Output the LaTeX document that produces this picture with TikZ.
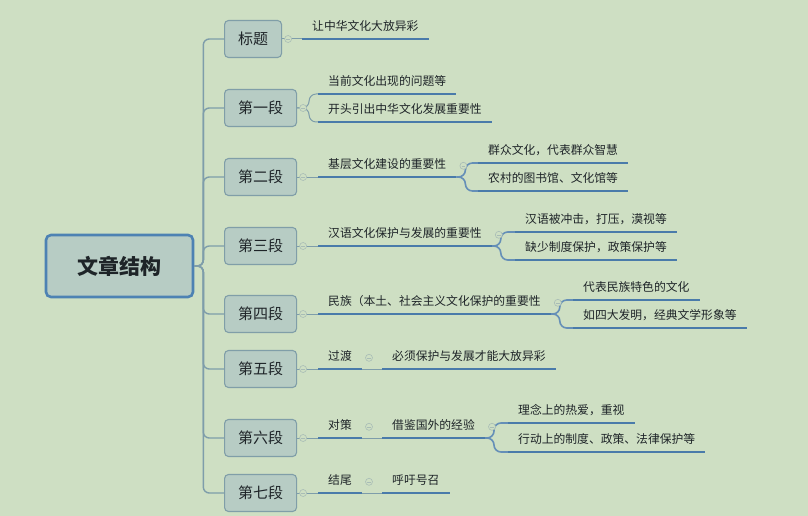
\documentclass[tikz,border=0pt]{standalone}
\usepackage{fontspec}
\setmainfont{Noto Sans CJK SC}
\definecolor{bgreen}{RGB}{206,223,195}
\definecolor{boxfill}{RGB}{183,204,196}
\definecolor{boxline}{RGB}{128,158,168}
\definecolor{rootline}{RGB}{77,130,179}
\definecolor{ulblue}{RGB}{74,123,170}
\definecolor{linkgray}{RGB}{126,157,170}
\definecolor{foldgray}{RGB}{168,188,182}
\definecolor{inkdark}{RGB}{30,36,40}
\usetikzlibrary{positioning}
\tikzset{
	root/.style={rectangle, rounded corners=5pt, draw=rootline, fill=boxfill, line width=2.6pt, minimum width=147pt, minimum height=62pt, font=\fontsize{21}{24}\selectfont\bfseries, text=inkdark},
	part/.style={rectangle, rounded corners=4pt, draw=boxline, fill=boxfill, line width=1.1pt, minimum height=37pt, inner xsep=13.5pt, anchor=west, font=\fontsize{15}{18}\selectfont, text=inkdark},
	topic/.style={anchor=south west, inner xsep=10pt, inner ysep=5pt, text height=9pt, text depth=3pt, font=\fontsize{11.8}{14}\selectfont, text=inkdark},
	uline/.style={draw=ulblue, line width=2.8pt},
	trunk/.style={draw=linkgray, line width=1.4pt, rounded corners=6pt},
	link/.style={draw=linkgray, line width=1pt, rounded corners=7pt},
	sublink/.style={draw=ulblue!85, line width=1.6pt, rounded corners=7pt},
	fold/.style={circle, draw=foldgray, fill=bgreen, line width=0.6pt, minimum size=7pt, inner sep=0pt, path picture={\draw[foldgray, line width=0.6pt] ([xshift=-1.8pt]path picture bounding box.center) -- ([xshift=1.8pt]path picture bounding box.center);}},
}

\begin{document}
\begin{tikzpicture}[x=1pt, y=-1pt]
	\fill[bgreen] (0,0) rectangle (808,516);
	\useasboundingbox (0,0) rectangle (808,516);

	\node[root] (doc) at (119.5,266) {文章结构};

	% 各段
	\node[part] (title) at (224,39) {标题};
	\node[part] (para1) at (224,108) {第一段};
	\node[part] (para2) at (224,177) {第二段};
	\node[part] (para3) at (224,246) {第三段};
	\node[part] (para4) at (224,314) {第四段};
	\node[part] (para5) at (224,369) {第五段};
	\node[part] (para6) at (224,438) {第六段};
	\node[part] (para7) at (224,493) {第七段};

	% 要点
	\node[topic] (t1) at (302,39) {让中华文化大放异彩};
	\node[topic] (p1a) at (318,94) {当前文化出现的问题等};
	\node[topic] (p1b) at (318,122) {开头引出中华文化发展重要性};
	\node[topic] (p2) at (318,177) {基层文化建设的重要性};
	\node[topic] (p2a) at (478,163) {群众文化，代表群众智慧};
	\node[topic] (p2b) at (478,191) {农村的图书馆、文化馆等};
	\node[topic] (p3) at (318,246) {汉语文化保护与发展的重要性};
	\node[topic] (p3a) at (515,232) {汉语被冲击，打压，漠视等};
	\node[topic] (p3b) at (515,260) {缺少制度保护，政策保护等};
	\node[topic] (p4) at (318,314) {民族（本土、社会主义文化保护的重要性};
	\node[topic] (p4a) at (573,300) {代表民族特色的文化};
	\node[topic] (p4b) at (573,328) {如四大发明，经典文学形象等};
	\node[topic] (p5) at (318,369) {过渡};
	\node[topic, right=20pt of p5] (p5a) {必须保护与发展才能大放异彩};
	\node[topic] (p6) at (318,438) {对策};
	\node[topic, right=20pt of p6] (p6a) {借鉴国外的经验};
	\node[topic] (p6b) at (508,423) {理念上的热爱，重视};
	\node[topic] (p6c) at (508,452) {行动上的制度、政策、法律保护等};
	\node[topic] (p7) at (318,493) {结尾};
	\node[topic, right=20pt of p7] (p7a) {呼吁号召};

	% 连线
	\foreach \n in {title,para1,para2,para3,para4,para5,para6,para7}
		\draw[trunk] (doc.east) -- ([xshift=9pt]doc.east) |- (\n.west);
	\draw[link] (title.east) -- (t1.south west);
	\draw[link] (para1.east) -- ++(12,0) |- (p1a.south west);
	\draw[link] (para1.east) -- ++(12,0) |- (p1b.south west);
	\draw[link] (para2.east) -- (p2.south west);
	\draw[link] (para3.east) -- (p3.south west);
	\draw[link] (para4.east) -- (p4.south west);
	\draw[link] (para5.east) -- (p5.south west);
	\draw[link] (para6.east) -- (p6.south west);
	\draw[link] (para7.east) -- (p7.south west);
	\draw[sublink] (p2.south east) -- ++(9,0) |- (p2a.south west);
	\draw[sublink] (p2.south east) -- ++(9,0) |- (p2b.south west);
	\draw[sublink] (p3.south east) -- ++(9,0) |- (p3a.south west);
	\draw[sublink] (p3.south east) -- ++(9,0) |- (p3b.south west);
	\draw[sublink] (p4.south east) -- ++(9,0) |- (p4a.south west);
	\draw[sublink] (p4.south east) -- ++(9,0) |- (p4b.south west);
	\draw[link] (p5.south east) -- (p5a.south west);
	\draw[link] (p6.south east) -- (p6a.south west);
	\draw[sublink] (p6a.south east) -- ++(9,0) |- (p6b.south west);
	\draw[sublink] (p6a.south east) -- ++(9,0) |- (p6c.south west);
	\draw[link] (p7.south east) -- (p7a.south west);

	\foreach \n in {t1,p1a,p1b,p2,p2a,p2b,p3,p3a,p3b,p4,p4a,p4b,p5,p5a,p6,p6a,p6b,p6c,p7,p7a}
		\draw[uline] (\n.south west) -- (\n.south east);

	% 折叠按钮
	\foreach \n in {title,para1,para2,para3,para4,para5,para6,para7}
		\node[fold] (fold-\n) at ([xshift=6pt]\n.east) {};
	\foreach \n in {p2,p3,p4,p5,p6,p6a,p7}
		\node[fold] (fold-\n) at ([xshift=7pt]\n.east) {};
\end{tikzpicture}
\end{document}
